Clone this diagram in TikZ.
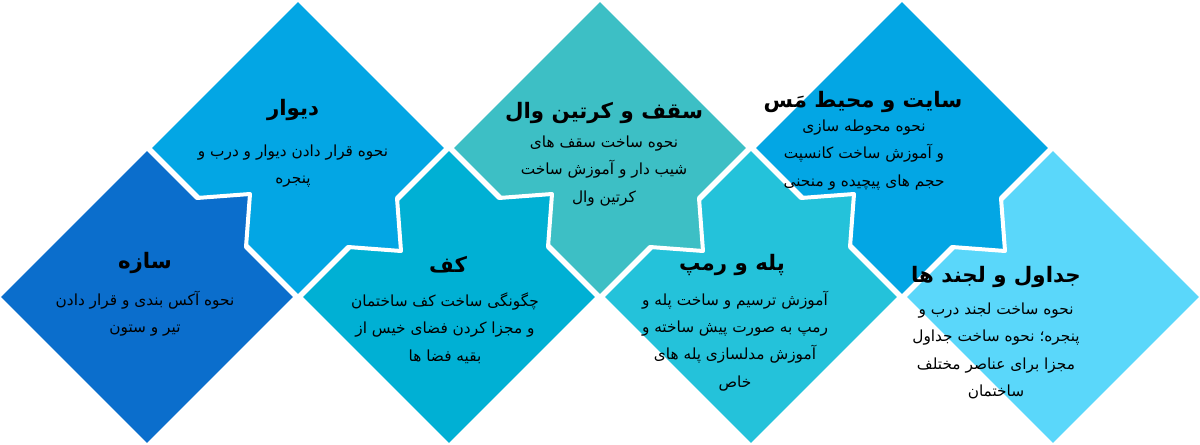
\documentclass[tikz,border=0pt]{standalone}
\usepackage{fontspec}
\usepackage{tikz}
\TeXXeTstate=1
\newfontfamily\arabicfont[Script=Arabic]{DejaVu Sans}
\definecolor{sazehblue}{RGB}{11,110,204}
\definecolor{divarblue}{RGB}{3,166,228}
\definecolor{kafcyan}{RGB}{0,176,212}
\definecolor{saghfteal}{RGB}{61,191,197}
\definecolor{pellecyan}{RGB}{36,194,218}
\definecolor{siteblue}{RGB}{3,166,228}
\definecolor{tablelight}{RGB}{90,215,250}

\begin{document}
\begin{tikzpicture}[x=0.75pt, y=-0.75pt,
	piece/.style={draw=white, line width=3pt, line join=round},
	titletext/.style={font=\arabicfont\bfseries\fontsize{16}{19}\selectfont},
	bodytext/.style={font=\arabicfont\fontsize{11.5}{20.5}\selectfont, align=center}]
	\useasboundingbox (0,0) rectangle (1200,445);
%% the pieces go from right to left, so that the tab of each one lies over its right neighbour
	\filldraw[piece, fill=tablelight] (1053,297) ++(-149,0) -- ++(149,-149) -- ++(149,149) -- ++(-149,149) -- cycle;
	\filldraw[piece, fill=siteblue] (902,148) ++(-149,0) -- ++(149,-149) -- ++(149,149) -- ++(-50,50) -- ++(4,53) -- ++(-53,-4) -- ++(-50,50) -- cycle;
	\filldraw[piece, fill=pellecyan] (751,297) ++(-149,0) -- ++(149,-149) -- ++(50,50) -- ++(53,-4) -- ++(-4,53) -- ++(50,50) -- ++(-149,149) -- cycle;
	\filldraw[piece, fill=saghfteal] (600,148) ++(-149,0) -- ++(149,-149) -- ++(149,149) -- ++(-50,50) -- ++(4,53) -- ++(-53,-4) -- ++(-50,50) -- cycle;
	\filldraw[piece, fill=kafcyan] (449,297) ++(-149,0) -- ++(149,-149) -- ++(50,50) -- ++(53,-4) -- ++(-4,53) -- ++(50,50) -- ++(-149,149) -- cycle;
	\filldraw[piece, fill=divarblue] (298,148) ++(-149,0) -- ++(149,-149) -- ++(149,149) -- ++(-50,50) -- ++(4,53) -- ++(-53,-4) -- ++(-50,50) -- cycle;
	\filldraw[piece, fill=sazehblue] (147,297) ++(-149,0) -- ++(149,-149) -- ++(50,50) -- ++(53,-4) -- ++(-4,53) -- ++(50,50) -- ++(-149,149) -- cycle;

%% titles and texts
	\node[titletext] (sazeh-title) at (145,263) {\beginR سازه\endR};
	\node[bodytext] (sazeh-text) at (145,314) {\beginR نحوه آکس بندی و قرار دادن\endR\\\beginR تیر و ستون\endR};
	\node[titletext] (divar-title) at (293,110) {\beginR دیوار\endR};
	\node[bodytext] (divar-text) at (293,166) {\beginR نحوه قرار دادن دیوار و درب و\endR\\\beginR پنجره\endR};
	\node[titletext] (kaf-title) at (448,265) {\beginR کف\endR};
	\node[bodytext] (kaf-text) at (445,328) {\beginR چگونگی ساخت کف ساختمان\endR\\\beginR و مجزا کردن فضای خیس از\endR\\\beginR بقیه فضا ها\endR};
	\node[titletext] (saghf-title) at (604,113) {\beginR سقف و کرتین وال\endR};
	\node[bodytext] (saghf-text) at (604,171) {\beginR نحوه ساخت سقف های\endR\\\beginR شیب دار و آموزش ساخت\endR\\\beginR کرتین وال\endR};
	\node[titletext] (pelle-title) at (732,265) {\beginR پله و رمپ\endR};
	\node[bodytext] (pelle-text) at (735,341) {\beginR آموزش ترسیم و ساخت پله و\endR\\\beginR رمپ به صورت پیش ساخته و\endR\\\beginR آموزش مدلسازی پله های\endR\\\beginR خاص\endR};
	\node[titletext] (site-title) at (863,102) {\beginR سایت و محیط مَس\endR};
	\node[bodytext] (site-text) at (864,155) {\beginR نحوه محوطه سازی\endR\\\beginR و آموزش ساخت کانسپت\endR\\\beginR حجم های پیچیده و منحنی\endR};
	\node[titletext] (jadval-title) at (996,277) {\beginR جداول و لجند ها\endR};
	\node[bodytext] (jadval-text) at (996,351) {\beginR نحوه ساخت لجند درب و\endR\\\beginR پنجره؛ نحوه ساخت جداول\endR\\\beginR مجزا برای عناصر مختلف\endR\\\beginR ساختمان\endR};
\end{tikzpicture}
\end{document}
